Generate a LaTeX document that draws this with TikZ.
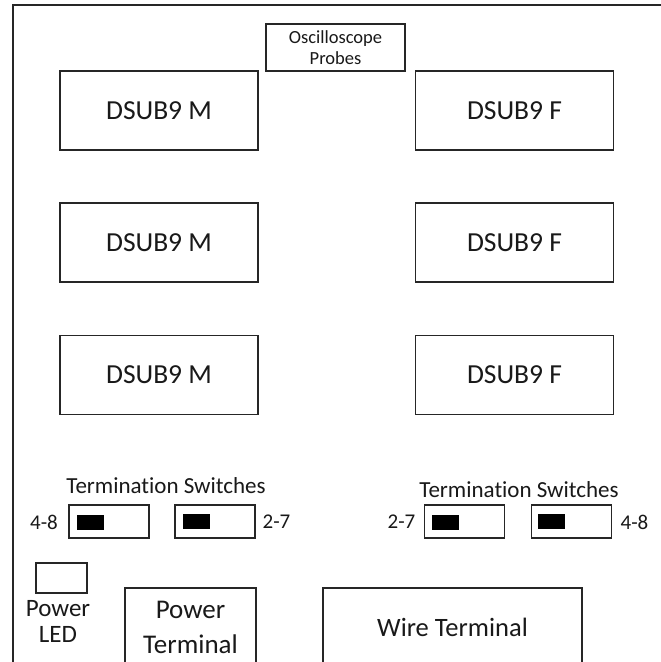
\documentclass[tikz,border=0pt]{standalone}
\usepackage{fontspec}
\setmainfont{Carlito}[Ligatures=NoCommon]
\newcommand{\termword}{Terminat\kern0pt ion}
\begin{document}
\begin{tikzpicture}[x=1pt,y=-1pt,
  box/.style={draw=black!85, line width=1.6pt, rectangle, inner sep=0pt, align=center, text=black!90},
  dsub/.style={box, minimum width=198pt, minimum height=79pt, font=\fontsize{27.5}{33}\selectfont},
  swbox/.style={draw=black!85, line width=1.4pt, rectangle, inner sep=0pt, minimum width=80pt, minimum height=33pt},
  knob/.style={fill=black, rectangle, inner sep=0pt, minimum width=27pt, minimum height=15pt},
  lbl/.style={inner sep=0pt, text=black!90, align=center},
  swlbl/.style={lbl, font=\fontsize{21}{25}\selectfont}]
\useasboundingbox (0,0) rectangle (661,662);
\clip (0,0) rectangle (661,662);
\fill[white] (0,0) rectangle (661,662);
% outer frame
\draw[draw=black!85, line width=2.2pt] (13,5) rectangle (700,720);
% oscilloscope probes
\node[box, minimum width=139pt, minimum height=47pt, font=\fontsize{18.5}{20.5}\selectfont] (osc) at (335.5,47.5) {Oscilloscope\\Probes};
% DSUB connectors
\node[dsub] (m1) at (159,110.5) {DSUB9 M};
\node[dsub] (m2) at (159,242.5) {DSUB9 M};
\node[dsub] (m3) at (159,375) {DSUB9 M};
\node[dsub] (f1) at (514.5,110.5) {DSUB9 F};
\node[dsub] (f2) at (514.5,242.5) {DSUB9 F};
\node[dsub] (f3) at (514.5,375) {DSUB9 F};
% termination switches left
\node[lbl, anchor=base, font=\fontsize{23}{28}\selectfont] (tsl) at (166,493) {\termword{} Switches};
\node[swbox] (sl1) at (109,521.5) {};
\node[swbox] (sl2) at (215,521.5) {};
\node[knob] (kl1) at (90.5,522) {};
\node[knob] (kl2) at (196.5,521.5) {};
\node[swlbl] (l48a) at (44,522) {4-8};
\node[swlbl] (l27a) at (276.5,522) {2-7};
% termination switches right
\node[lbl, anchor=base, font=\fontsize{23}{28}\selectfont] (tsr) at (519,497) {\termword{} Switches};
\node[swbox] (sr1) at (464.5,521.5) {};
\node[swbox] (sr2) at (571.5,521.5) {};
\node[knob] (kr1) at (445,522) {};
\node[knob] (kr2) at (551.5,521.5) {};
\node[swlbl] (l27b) at (401.5,522) {2-7};
\node[swlbl] (l48b) at (634.5,522) {4-8};
% power LED
\node[box, line width=1.3pt, minimum width=51pt, minimum height=30pt] (led) at (61.5,578) {};
\node[lbl, font=\fontsize{25}{26}\selectfont] (ledl) at (58,621) {Power\\LED};
% terminals
\node[box, minimum width=131pt, minimum height=79pt, font=\fontsize{27}{34.5}\selectfont] (pt) at (190.5,627.5) {Power\\Terminal};
\node[box, minimum width=259pt, minimum height=79pt, font=\fontsize{26.5}{32}\selectfont] (wt) at (452.5,627.5) {Wire Terminal};
\end{tikzpicture}
\end{document}
